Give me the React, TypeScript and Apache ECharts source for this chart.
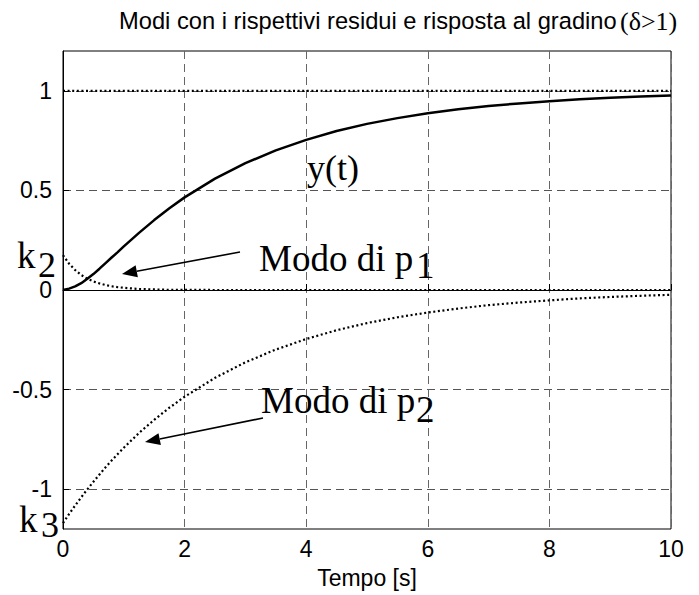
import React, { useEffect, useRef } from 'react';
import * as echarts from 'echarts';

// Time samples [s]
const timeS = [0, 0.1, 0.2, 0.3, 0.4, 0.5, 0.6, 0.7, 0.8, 0.9, 1, 1.25, 1.5, 1.75, 2, 2.5, 3, 3.5, 4, 4.5, 5, 5.5, 6, 6.5, 7, 7.5, 8, 8.5, 9, 9.5, 10];
// Step response y(t)
const stepResponse = [0, 0.007, 0.018, 0.034, 0.056, 0.08, 0.107, 0.135, 0.163, 0.19, 0.219, 0.287, 0.351, 0.41, 0.465, 0.559, 0.637, 0.701, 0.754, 0.798, 0.834, 0.863, 0.887, 0.907, 0.924, 0.937, 0.948, 0.958, 0.965, 0.971, 0.976];
// Mode of p1 (with residue k2)
const modeP1 = [0.175, 0.132, 0.1, 0.075, 0.057, 0.043, 0.033, 0.025, 0.019, 0.014, 0.011, 0.005, 0.003, 0.001, 0.001, 0, 0, 0, 0, 0, 0, 0, 0, 0, 0, 0, 0, 0, 0, 0, 0];
// Mode of p2 (with residue k3)
const modeP2 = [-1.17, -1.125, -1.082, -1.041, -1.001, -0.963, -0.926, -0.89, -0.856, -0.824, -0.792, -0.718, -0.652, -0.591, -0.536, -0.441, -0.363, -0.299, -0.246, -0.202, -0.166, -0.137, -0.113, -0.093, -0.076, -0.063, -0.052, -0.042, -0.035, -0.029, -0.024];
// Final value line
const finalValueLine = [[0, 1], [10, 1]];

const yTicks = [-1, -0.5, 0, 0.5, 1];

const SANS = 'Liberation Sans, Arial, Helvetica, sans-serif';
const SERIF = 'Liberation Serif, Times New Roman, serif';

function arrow(x1: number, y1: number, x2: number, y2: number) {
  const dx = x2 - x1;
  const dy = y2 - y1;
  const len = Math.sqrt(dx * dx + dy * dy);
  const ux = dx / len;
  const uy = dy / len;
  const hl = 15;
  const hw = 6;
  const bx = x2 - ux * hl;
  const by = y2 - uy * hl;
  return [
    { type: 'line', shape: { x1, y1, x2: bx, y2: by }, style: { stroke: '#000', lineWidth: 1.6 }, z: 10 },
    {
      type: 'polygon',
      shape: { points: [[x2, y2], [bx - uy * hw, by + ux * hw], [bx + uy * hw, by - ux * hw]] },
      style: { fill: '#000' },
      z: 10,
    },
  ];
}

function serifText(text: string, x: number, y: number, size: number) {
  return {
    type: 'text',
    x,
    y,
    z: 10,
    style: { text, font: `${size}px ${SERIF}`, fill: '#000', textAlign: 'left', textVerticalAlign: 'middle' },
  };
}

export default function App() {
  const ref = useRef<HTMLDivElement>(null);
  useEffect(() => {
    document.body.style.margin = '0';
    const chart = echarts.init(ref.current!, undefined, { renderer: 'svg' });
    const pairs = (vals: number[]) => timeS.map((t, i) => [t, vals[i]]);
    const dotted = { color: '#000', width: 2.2, type: [2, 2.6] as number[] };
    chart.setOption({
      animation: false,
      backgroundColor: '#fff',
      grid: { left: 63, right: 28, top: 51, bottom: 66, show: true, borderColor: '#000', borderWidth: 1, backgroundColor: 'transparent' },
      xAxis: {
        type: 'value',
        min: 0,
        max: 10,
        interval: 2,
        name: 'Tempo [s]',
        nameLocation: 'middle',
        nameGap: 37,
        nameTextStyle: { fontFamily: SANS, fontSize: 23, color: '#000' },
        axisLine: { lineStyle: { color: '#000', width: 1 } },
        axisTick: { inside: true, length: 6, lineStyle: { color: '#000' } },
        axisLabel: { fontFamily: SANS, fontSize: 23, color: '#000', margin: 8 },
        splitLine: { show: true, lineStyle: { color: '#666', width: 1, type: [8, 5] } },
      },
      yAxis: {
        type: 'value',
        min: -1.2,
        max: 1.2,
        axisLine: { lineStyle: { color: '#000', width: 1 } },
        axisTick: { inside: true, length: 6, lineStyle: { color: '#000' }, customValues: yTicks },
        axisLabel: { fontFamily: SANS, fontSize: 23, color: '#000', margin: 11, customValues: yTicks },
        splitLine: { show: true, lineStyle: { color: '#555', width: 1, type: [8, 5] } },
      },
      series: [
        { type: 'line', data: pairs(stepResponse), showSymbol: false, lineStyle: { color: '#000', width: 2.5 }, z: 4 },
        { type: 'line', data: pairs(modeP1), showSymbol: false, lineStyle: dotted, z: 3 },
        { type: 'line', data: pairs(modeP2), showSymbol: false, lineStyle: dotted, z: 3 },
        { type: 'line', data: finalValueLine, showSymbol: false, lineStyle: dotted, z: 3 },
      ],
      graphic: [
        {
          type: 'text',
          x: 119,
          y: 21,
          z: 10,
          style: {
            text: '{a|Modi con i rispettivi residui e risposta al gradino} {b|(δ>1)}',
            textVerticalAlign: 'middle',
            rich: {
              a: { font: `23.7px ${SANS}`, fill: '#000' },
              b: { font: `26px ${SERIF}`, fill: '#000' },
            },
          },
        },
        serifText('y(t)', 307, 168, 36),
        serifText('Modo di p', 259, 258, 37),
        serifText('1', 416, 265, 37),
        serifText('Modo di p', 261, 400, 37),
        serifText('2', 416, 409, 37),
        serifText('k', 17, 255, 37),
        serifText('2', 38, 265, 36),
        serifText('k', 19, 519, 37),
        serifText('3', 41, 525, 36),
        ...arrow(240, 252, 122, 274),
        ...arrow(263, 418, 145, 442),
      ],
    });
    return () => chart.dispose();
  }, []);
  return <div ref={ref} style={{ width: 699, height: 595 }} />;
}
